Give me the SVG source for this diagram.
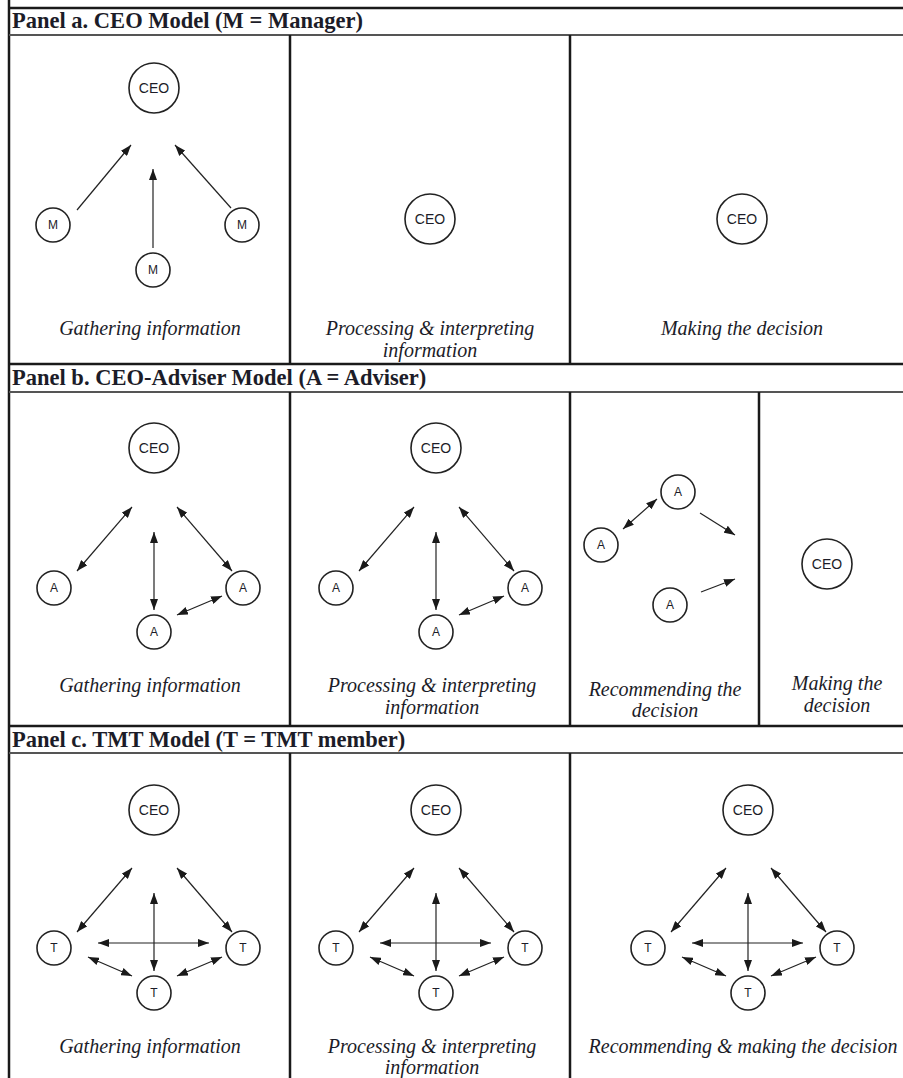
<svg xmlns="http://www.w3.org/2000/svg" width="903" height="1078" viewBox="0 0 903 1078">
<defs>
<marker id="ah" viewBox="0 0 11 8" refX="11" refY="4" markerWidth="11" markerHeight="8" markerUnits="userSpaceOnUse" orient="auto-start-reverse">
<path d="M0,0 L11,4 L0,8 z" fill="#1a1a1a"/>
</marker>
<style>
.frame{stroke:#1a1a1a;stroke-width:2.5;fill:none}
.hdr{stroke:#555;stroke-width:2;fill:none}
.head{font-family:"Liberation Serif",serif;font-weight:bold;font-size:22.5px;fill:#1c1c28}
.lab{font-family:"Liberation Serif",serif;font-style:italic;font-size:20px;fill:#1c1c28;text-anchor:middle}
.big{fill:#fff;stroke:#222;stroke-width:1.6}
.sm{fill:#fff;stroke:#222;stroke-width:1.6}
.ceo{font-family:"Liberation Sans",sans-serif;font-size:14px;fill:#1c1c28;text-anchor:middle}
.let{font-family:"Liberation Sans",sans-serif;font-size:12px;fill:#1c1c28;text-anchor:middle}
.one{stroke:#222;stroke-width:1.2;fill:none;marker-end:url(#ah)}
.two{stroke:#222;stroke-width:1.2;fill:none;marker-start:url(#ah);marker-end:url(#ah)}
</style>
</defs>
<rect width="903" height="1078" fill="#fff"/>
<g id="frame">
<line class="frame" x1="9" y1="0" x2="9" y2="1078"/>
<line class="frame" x1="8" y1="8" x2="903" y2="8"/>
<line class="hdr" x1="9" y1="35" x2="903" y2="35"/>
<line class="frame" x1="9" y1="364" x2="903" y2="364"/>
<line class="hdr" x1="9" y1="392" x2="903" y2="392"/>
<line class="frame" x1="9" y1="726" x2="903" y2="726"/>
<line class="hdr" x1="9" y1="753" x2="903" y2="753"/>
<line class="frame" x1="290" y1="35" x2="290" y2="364"/>
<line class="frame" x1="570" y1="35" x2="570" y2="364"/>
<line class="frame" x1="290" y1="392" x2="290" y2="726"/>
<line class="frame" x1="570" y1="392" x2="570" y2="726"/>
<line class="frame" x1="759" y1="392" x2="759" y2="726"/>
<line class="frame" x1="290" y1="753" x2="290" y2="1078"/>
<line class="frame" x1="570" y1="753" x2="570" y2="1078"/>
</g>
<g id="headers">
<text class="head" x="12" y="28">Panel a. CEO Model (M = Manager)</text>
<text class="head" x="12" y="385">Panel b. CEO-Adviser Model (A = Adviser)</text>
<text class="head" x="12" y="747">Panel c. TMT Model (T = TMT member)</text>
</g>
<g id="labels">
<text class="lab" x="150" y="335">Gathering information</text>
<text class="lab" x="430" y="335">Processing &amp; interpreting</text>
<text class="lab" x="430" y="357">information</text>
<text class="lab" x="742" y="335">Making the decision</text>
<text class="lab" x="150" y="692">Gathering information</text>
<text class="lab" x="432" y="692">Processing &amp; interpreting</text>
<text class="lab" x="432" y="714">information</text>
<text class="lab" x="665" y="696">Recommending the</text>
<text class="lab" x="665" y="717">decision</text>
<text class="lab" x="837" y="690">Making the</text>
<text class="lab" x="837" y="712">decision</text>
<text class="lab" x="150" y="1053">Gathering information</text>
<text class="lab" x="432" y="1053">Processing &amp; interpreting</text>
<text class="lab" x="432" y="1074">information</text>
<text class="lab" x="743" y="1053">Recommending &amp; making the decision</text>
</g>
<g id="connectors">
<line class="one" x1="77" y1="210" x2="131" y2="145"/>
<line class="one" x1="153" y1="248" x2="153" y2="169"/>
<line class="one" x1="231" y1="208" x2="175" y2="145"/>
<g id="b1">
<line class="two" x1="77" y1="571" x2="132" y2="507"/>
<line class="two" x1="154" y1="532" x2="154" y2="610"/>
<line class="two" x1="177" y1="507" x2="232" y2="571"/>
<line class="two" x1="177" y1="615" x2="222" y2="596"/>
</g>
<use href="#b1" x="282" y="0"/>
<line class="two" x1="623" y1="529" x2="657" y2="499"/>
<line class="one" x1="700" y1="513" x2="735" y2="535"/>
<line class="one" x1="701" y1="592" x2="735" y2="579"/>
<g id="c1">
<line class="two" x1="77" y1="932" x2="132" y2="868"/>
<line class="two" x1="177" y1="868" x2="232" y2="932"/>
<line class="two" x1="154" y1="893" x2="154" y2="971"/>
<line class="two" x1="98" y1="943" x2="209" y2="943"/>
<line class="two" x1="88" y1="957" x2="132" y2="976"/>
<line class="two" x1="177" y1="976" x2="222" y2="957"/>
</g>
<use href="#c1" x="282" y="0"/>
<use href="#c1" x="594" y="0"/>
</g>
<g id="a-ceo1"><circle class="big" cx="154" cy="88" r="25"/><text class="ceo" x="154" y="93">CEO</text></g>
<g id="a-m1"><circle class="sm" cx="53" cy="225" r="17"/><text class="let" x="53" y="229">M</text></g>
<g id="a-m2"><circle class="sm" cx="153" cy="270" r="17"/><text class="let" x="153" y="274">M</text></g>
<g id="a-m3"><circle class="sm" cx="242" cy="225" r="17"/><text class="let" x="242" y="229">M</text></g>
<g id="a-ceo2"><circle class="big" cx="430" cy="219" r="25"/><text class="ceo" x="430" y="224">CEO</text></g>
<g id="a-ceo3"><circle class="big" cx="742" cy="219" r="25"/><text class="ceo" x="742" y="224">CEO</text></g>
<g id="b-ceo1"><circle class="big" cx="154" cy="448" r="25"/><text class="ceo" x="154" y="453">CEO</text></g>
<g id="b-a1"><circle class="sm" cx="54" cy="588" r="17"/><text class="let" x="54" y="592">A</text></g>
<g id="b-a2"><circle class="sm" cx="154" cy="632" r="17"/><text class="let" x="154" y="636">A</text></g>
<g id="b-a3"><circle class="sm" cx="243" cy="588" r="17"/><text class="let" x="243" y="592">A</text></g>
<g id="b-ceo2"><circle class="big" cx="436" cy="448" r="25"/><text class="ceo" x="436" y="453">CEO</text></g>
<g id="b-a4"><circle class="sm" cx="336" cy="588" r="17"/><text class="let" x="336" y="592">A</text></g>
<g id="b-a5"><circle class="sm" cx="436" cy="632" r="17"/><text class="let" x="436" y="636">A</text></g>
<g id="b-a6"><circle class="sm" cx="525" cy="588" r="17"/><text class="let" x="525" y="592">A</text></g>
<g id="b-a7"><circle class="sm" cx="678" cy="492" r="17"/><text class="let" x="678" y="496">A</text></g>
<g id="b-a8"><circle class="sm" cx="601" cy="545" r="17"/><text class="let" x="601" y="549">A</text></g>
<g id="b-a9"><circle class="sm" cx="670" cy="605" r="17"/><text class="let" x="670" y="609">A</text></g>
<g id="b-ceo3"><circle class="big" cx="827" cy="564" r="25"/><text class="ceo" x="827" y="569">CEO</text></g>
<g id="c-ceo1"><circle class="big" cx="154" cy="810" r="25"/><text class="ceo" x="154" y="815">CEO</text></g>
<g id="c-t1"><circle class="sm" cx="54" cy="948" r="17"/><text class="let" x="54" y="952">T</text></g>
<g id="c-t2"><circle class="sm" cx="154" cy="993" r="17"/><text class="let" x="154" y="997">T</text></g>
<g id="c-t3"><circle class="sm" cx="243" cy="948" r="17"/><text class="let" x="243" y="952">T</text></g>
<g id="c-ceo2"><circle class="big" cx="436" cy="810" r="25"/><text class="ceo" x="436" y="815">CEO</text></g>
<g id="c-t4"><circle class="sm" cx="336" cy="948" r="17"/><text class="let" x="336" y="952">T</text></g>
<g id="c-t5"><circle class="sm" cx="436" cy="993" r="17"/><text class="let" x="436" y="997">T</text></g>
<g id="c-t6"><circle class="sm" cx="525" cy="948" r="17"/><text class="let" x="525" y="952">T</text></g>
<g id="c-ceo3"><circle class="big" cx="748" cy="810" r="25"/><text class="ceo" x="748" y="815">CEO</text></g>
<g id="c-t7"><circle class="sm" cx="648" cy="948" r="17"/><text class="let" x="648" y="952">T</text></g>
<g id="c-t8"><circle class="sm" cx="748" cy="993" r="17"/><text class="let" x="748" y="997">T</text></g>
<g id="c-t9"><circle class="sm" cx="837" cy="948" r="17"/><text class="let" x="837" y="952">T</text></g>
</svg>
